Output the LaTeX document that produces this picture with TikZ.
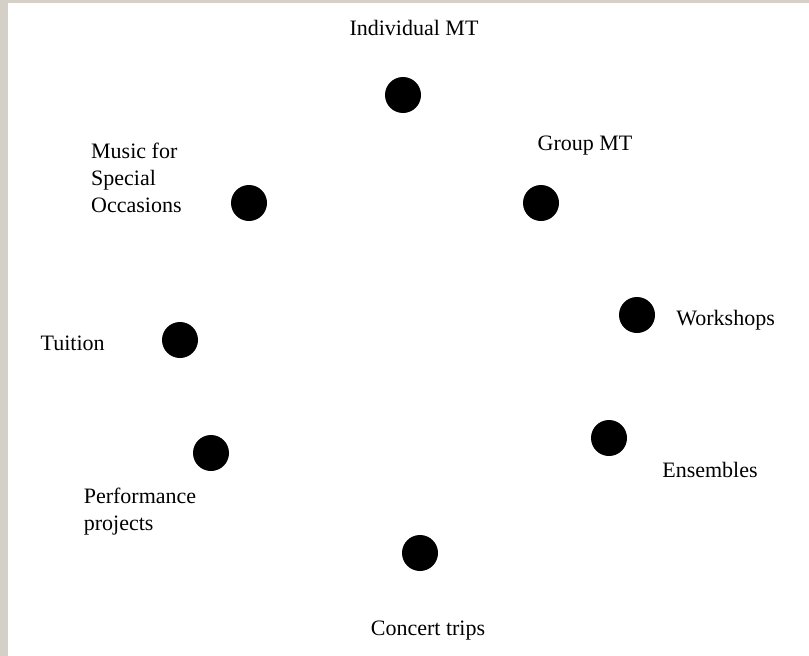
\documentclass[tikz,border=0pt]{standalone}
\usepackage{fontspec}
\setmainfont{Liberation Serif}
\usetikzlibrary{positioning}
\definecolor{winframe}{RGB}{212,208,200}

\begin{document}
\begin{tikzpicture}[
    x=1pt, y=-1pt,
    node distance=20pt,
    dot/.style={circle, fill=black, inner sep=0pt, minimum size=36pt},
    lbl/.style={inner sep=0pt, font=\fontsize{22}{27}\selectfont, text height=15pt, text depth=5pt},
    mlbl/.style={inner sep=0pt, font=\fontsize{22}{27}\selectfont, align=left}
]
% Window frame
\useasboundingbox (0,0) rectangle (809,656);
\fill[winframe] (0,0) rectangle (809,656);
\fill[white] (8,3) rectangle (809,656);

% Services round the circle
\node[dot] (indiv) at (403,95) {};
\node[dot] (group) at (541,203) {};
\node[dot] (occas) at (249,203) {};
\node[dot] (works) at (637,315) {};
\node[dot] (tuit) at (180,340) {};
\node[dot] (ensem) at (609,438) {};
\node[dot] (perf) at (211,453) {};
\node[dot] (trips) at (420,553) {};

% Labels
\node[lbl, above=36pt of indiv, xshift=11pt] (indivlbl) {Individual MT};
\node[lbl, above=29pt of group, xshift=44pt] (grouplbl) {Group MT};
\node[mlbl, left=49pt of occas, yshift=25pt] (occaslbl) {Music for\\Special\\Occasions};
\node[lbl, right=21pt of works, yshift=-5pt] (workslbl) {Workshops};
\node[lbl, left=57pt of tuit, yshift=-5pt] (tuitlbl) {Tuition};
\node[lbl, below=6pt of ensem, xshift=101pt] (ensemlbl) {Ensembles};
\node[mlbl, below=17pt of perf, xshift=-71pt] (perflbl) {Performance\\projects};
\node[lbl, below=49pt of trips, xshift=8pt] (tripslbl) {Concert trips};
\end{tikzpicture}
\end{document}
